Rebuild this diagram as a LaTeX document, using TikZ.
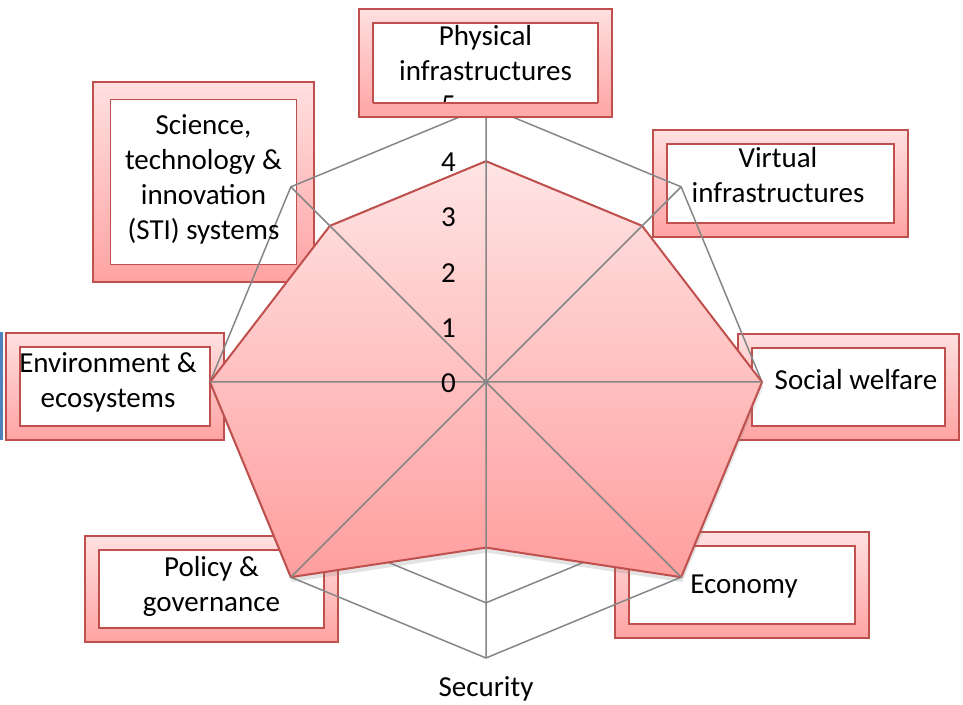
\documentclass[tikz,border=0pt]{standalone}
\usepackage{fontspec}
\setmainfont{Carlito}
\usetikzlibrary{positioning,shadows}
\definecolor{boxred}{RGB}{192,80,77}
\definecolor{frametop}{RGB}{255,224,224}
\definecolor{framebot}{RGB}{255,163,163}
\definecolor{areatop}{RGB}{255,228,228}
\definecolor{areabot}{RGB}{255,158,158}
\definecolor{gridgray}{RGB}{134,134,134}
\definecolor{selblue}{RGB}{79,129,189}
\begin{document}
\begin{tikzpicture}[x=1pt,y=1pt,
frame/.style={
% pink frame, white inside
rectangle,
draw=boxred,
line width=1.5pt,
outer sep=0pt,
top color=frametop,
bottom color=framebot,
path picture={\draw[boxred,line width=1.5pt,fill=white]
([shift={(#1,#1)}]path picture bounding box.south west) rectangle
([shift={(-#1,-#1)}]path picture bounding box.north east);}
},
frame/.default=14pt,
lbl/.style={align=center,inner sep=0pt,font=\fontsize{29}{35}\selectfont},
ticklbl/.style={anchor=east,inner sep=0pt,font=\fontsize{29}{35}\selectfont},
gridline/.style={draw=gridgray,line width=1.5pt},
area/.style={draw=boxred,line width=2pt,line join=round,
top color=areatop,bottom color=areabot,
drop shadow={opacity=0.22,shadow xshift=1pt,shadow yshift=-5pt}}
]
\useasboundingbox (0,0) rectangle (963,704);
\coordinate (c) at (486,322);

% label boxes
\node (phys) [frame,minimum width=253pt,minimum height=108pt] at (485.5,641) {};
\node (virt) [frame,minimum width=255pt,minimum height=107pt] at (780.5,520.5) {};
\node (soc) [frame,minimum width=221pt,minimum height=106pt] at (848.5,317) {};
\node (econ) [frame,minimum width=254pt,minimum height=106pt] at (742,119) {};
\node (pol) [frame,minimum width=253pt,minimum height=106pt] at (211.5,115) {};
\node (env) [frame,minimum width=218pt,minimum height=107pt] at (115,317.5) {};
\node (sti) [frame=17.5pt,minimum width=221pt,minimum height=200pt] at (203.5,522) {};

\begin{scope}[shift={(c)}]
\foreach \r in {55.2,110.4,165.6,220.8,276}
  \draw[gridline] (90:\r) -- (45:\r) -- (0:\r) -- (-45:\r) -- (-90:\r) -- (-135:\r) -- (180:\r) -- (135:\r) -- cycle;
% axis ends
\coordinate (aphy) at (90:276);
\coordinate (avir) at (45:276);
\coordinate (asoc) at (0:276);
\coordinate (aeco) at (-45:276);
\coordinate (asec) at (-90:276);
\coordinate (apol) at (-135:276);
\coordinate (aenv) at (180:276);
\coordinate (asti) at (135:276);
% values
\coordinate (dphy) at (90:220.8);
\coordinate (dvir) at (45:220.8);
\coordinate (dsoc) at (0:276);
\coordinate (deco) at (-45:276);
\coordinate (dsec) at (-90:165.6);
\coordinate (dpol) at (-135:276);
\coordinate (denv) at (180:276);
\coordinate (dsti) at (135:220.8);
\end{scope}

\path[area] (dphy) -- (dvir) -- (dsoc) -- (deco) -- (dsec) -- (dpol) -- (denv) -- (dsti) -- cycle;

\draw[gridline] (c) -- (aphy) (c) -- (avir) (c) -- (asoc) (c) -- (aeco)
  (c) -- (asec) (c) -- (apol) (c) -- (aenv) (c) -- (asti);

\node (t0) [ticklbl] at (456,321) {0};
\node (t1) [ticklbl] at (456,376.2) {1};
\node (t2) [ticklbl] at (456,431.4) {2};
\node (t3) [ticklbl] at (456,486.6) {3};
\node (t4) [ticklbl] at (456,541.8) {4};
\node (t5) [ticklbl] at (456,599) {5};

% bottom strip of the top box lies over the chart
\fill[framebot!88!frametop] (phys.south west) rectangle ([yshift=14pt]phys.south east);
\draw[boxred,line width=1.5pt] ([yshift=16pt]phys.south west) |- (phys.south east) -- ([yshift=16pt]phys.south east)
  ([shift={(14pt,14pt)}]phys.south west) -- ([shift={(-14pt,14pt)}]phys.south east);

\node (physt) [lbl] at ([yshift=9.5pt]phys.center) {Physical\\infrastructures};
\node (virtt) [lbl] at ([shift={(-2.5pt,8pt)}]virt.center) {Virtual\\infrastructures};
\node (soct) [lbl] at ([shift={(7.5pt,7pt)}]soc.center) {Social welfare};
\node (econt) [lbl] at ([shift={(2pt,-2pt)}]econ.center) {Economy};
\node (polt) [lbl] at ([yshift=3pt]pol.center) {Policy \&\\governance};
\node (envt) [lbl] at ([shift={(-7pt,4pt)}]env.center) {Environment \&\\ecosystems};
\node (stit) [lbl] at ([yshift=3pt]sti.center) {Science,\\technology \&\\innovation\\(STI) systems};
\node (secl) [lbl,below=18pt of asec] {Security};

\draw[selblue,line width=2.5pt] (1.5,264) -- (1.5,372);
\end{tikzpicture}
\end{document}
